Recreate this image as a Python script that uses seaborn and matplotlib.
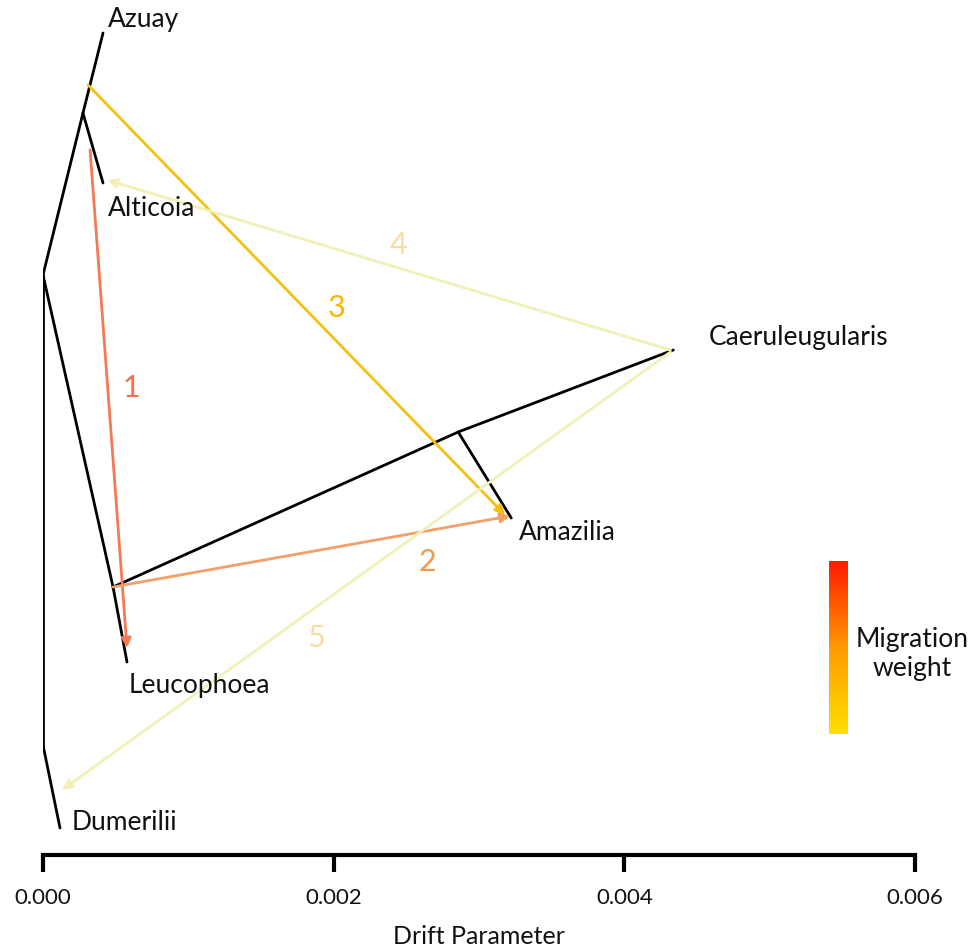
import numpy as np
import pandas as pd
import seaborn as sns
import matplotlib.pyplot as plt
from matplotlib.colors import LinearSegmentedColormap

# tree nodes: drift (x) and vertical position (y, arbitrary units)
node_names = ["root", "A", "Azuay", "Alticoia", "L", "Leucophoea", "B",
              "Caeruleugularis", "Amazilia", "D", "Dumerilii"]
node_x = [0.0, 0.000275, 0.000413, 0.000413, 0.000482, 0.000578, 0.002857,
          0.004337, 0.003222, 0.0, 0.000117]
node_y = [580, 742, 822, 672, 268, 193, 423, 505, 337, 110, 27]

# parent -> child edges
edges = [("root", "A"), ("A", "Azuay"), ("A", "Alticoia"), ("root", "L"),
         ("L", "Leucophoea"), ("L", "B"), ("B", "Caeruleugularis"),
         ("B", "Amazilia"), ("root", "D"), ("D", "Dumerilii")]

# migration edges: start, end, label position, colour
mig_ids = ["1", "2", "3", "4", "5"]
mig_x0 = [0.000324, 0.000482, 0.000310, 0.004317, 0.004317]
mig_y0 = [705, 268, 770, 505, 503]
mig_x1 = [0.000578, 0.003215, 0.003180, 0.000441, 0.000131]
mig_y1 = [207, 339, 340, 675, 65]
mig_lx = [0.000606, 0.002644, 0.002017, 0.002444, 0.001880]
mig_ly = [467, 293, 547, 610, 217]
mig_line_col = ["#f47a55", "#f0a068", "#f5c010", "#f0f0b8", "#f0f0b8"]
mig_text_col = ["#f4704a", "#f29a4a", "#f7b400", "#fbdca0", "#fbdca0"]

# tip labels (drift, vertical)
tip_names = ["Azuay", "Alticoia", "Leucophoea", "Caeruleugularis", "Amazilia", "Dumerilii"]
tip_lx = [0.000447, 0.000447, 0.000592, 0.004578, 0.003277, 0.000200]
tip_ly = [835, 647, 169, 517, 323, 32]

xticks = [0.000, 0.002, 0.004, 0.006]

pos = {n: (x, y) for n, x, y in zip(node_names, node_x, node_y)}
rows = []
for i, (a, b) in enumerate(edges):
    for n in (a, b):
        rows.append({"edge": i, "x": pos[n][0], "y": pos[n][1]})
edge_df = pd.DataFrame(rows)

sns.set_theme(style="white")
plt.rcParams['font.family'] = ['Lato', 'DejaVu Sans']

fig = plt.figure(figsize=(9.77, 9.51), dpi=100)
ax = fig.add_axes([43 / 977, 96 / 951, 872 / 977, 855 / 951])

for i in range(len(mig_ids)):
    ax.annotate("", xy=(mig_x1[i], mig_y1[i]), xytext=(mig_x0[i], mig_y0[i]),
                arrowprops=dict(arrowstyle="-|>", color=mig_line_col[i], lw=2,
                                mutation_scale=14, shrinkA=0, shrinkB=0),
                annotation_clip=False)
    ax.text(mig_lx[i], mig_ly[i], mig_ids[i], color=mig_text_col[i],
            fontsize=22, ha="center", va="center")

sns.lineplot(data=edge_df, x="x", y="y", units="edge", estimator=None,
             sort=False, color="black", lw=2, ax=ax)

for n, lx, ly in zip(tip_names, tip_lx, tip_ly):
    ax.text(lx, ly, n, fontsize=19, ha="left", va="center", color="#111111")

ax.set_xlim(0, 0.006)
ax.set_ylim(0, 855)
ax.set_xticks(xticks)
ax.set_xticklabels([f"{t:.3f}" for t in xticks], fontsize=16, color="#111111")
ax.set_yticks([])
ax.set_ylabel("")
ax.set_xlabel("Drift Parameter", fontsize=18, labelpad=12, color="#111111")
for s in ["top", "right", "left"]:
    ax.spines[s].set_visible(False)
ax.spines["bottom"].set_linewidth(3)
ax.spines["bottom"].set_color("black")
ax.tick_params(axis="x", bottom=True, length=12, width=3, color="black", pad=12)

# migration weight colour bar
cmap = LinearSegmentedColormap.from_list("mig", ["#ffe000", "#ff9a00", "#ff1a00"])
cax = fig.add_axes([829 / 977, 217 / 951, 19 / 977, 173 / 951])
grad = np.linspace(0, 1, 256).reshape(-1, 1)
cax.imshow(grad, aspect="auto", cmap=cmap, origin="lower")
cax.set_axis_off()
fig.text(912 / 977, 1 - 654 / 951, "Migration\nweight", fontsize=19,
         ha="center", va="center", linespacing=1.2, color="#111111")

fig.savefig("out.png", dpi=100)
